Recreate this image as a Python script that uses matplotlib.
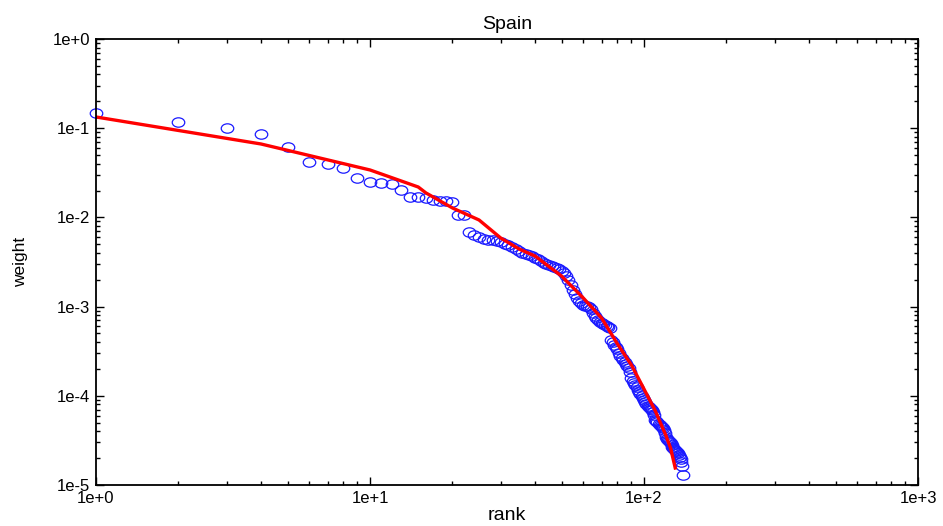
import numpy as np
import matplotlib.pyplot as plt
from matplotlib.path import Path
from matplotlib.transforms import Affine2D

plt.rcParams['font.family'] = ['Liberation Sans', 'DejaVu Sans']

# observed weights, rank 1..139
weights = [
    0.148, 0.1174, 0.1005, 0.0861, 0.0615, 0.0418, 0.0397, 0.0358, 0.0276, 0.0249,
    0.0243, 0.0237, 0.0203, 0.0169, 0.0169, 0.0165, 0.0157, 0.0153, 0.0153, 0.0149,
    0.01064, 0.01064, 0.00686, 0.00635, 0.00603, 0.00573, 0.00558, 0.00558, 0.00544, 0.0053,
    0.00503, 0.0049, 0.00466, 0.00442, 0.0042, 0.00399, 0.00389, 0.00379, 0.00369, 0.0035,
    0.00342, 0.00324, 0.00308, 0.0030, 0.00293, 0.00285, 0.00278, 0.00271, 0.00264, 0.00251,
    0.00238, 0.0022, 0.00199, 0.00175, 0.00153, 0.00138, 0.00125, 0.00116, 0.0011, 0.00104,
    0.00102, 0.00102, 0.00099, 0.00094, 0.00085, 0.000784, 0.000745, 0.000708, 0.000672, 0.000655,
    0.000638, 0.000622, 0.000606, 0.00059, 0.000575, 0.000422, 0.000401, 0.000371, 0.000352, 0.000335,
    0.000302, 0.000279, 0.000265, 0.000252, 0.000239, 0.000227, 0.000216, 0.000205, 0.000185, 0.000158,
    0.000147, 0.000139, 0.000132, 0.000126, 0.000116, 0.00011, 0.000105, 0.0000995, 0.0000945, 0.0000897,
    0.0000852, 0.0000809, 0.0000769, 0.0000749, 0.000073, 0.0000711, 0.0000693, 0.0000658, 0.0000609, 0.0000535,
    0.0000522, 0.0000508, 0.0000483, 0.000047, 0.0000459, 0.0000447, 0.0000436, 0.0000414, 0.0000383, 0.0000345,
    0.0000328, 0.0000319, 0.0000311, 0.0000303, 0.0000296, 0.0000281, 0.0000267, 0.000026, 0.0000253, 0.0000247,
    0.000024, 0.0000234, 0.0000228, 0.0000217, 0.0000206, 0.0000196, 0.0000181, 0.0000163, 0.0000129,
]
ranks = np.arange(1, len(weights) + 1)

# fitted model curve
fit_ranks = [1, 4, 10, 15, 16, 20, 25, 30, 35, 40, 50, 60, 70, 80, 90, 100, 110, 120, 125, 130]
fit_weights = [0.1335, 0.0665, 0.034, 0.0219, 0.0188, 0.01274, 0.00935, 0.00587, 0.00442, 0.00369,
               0.0022, 0.00125, 0.000745, 0.000381, 0.000221, 0.000119, 0.0000675, 0.0000363,
               0.000026, 0.0000155]

# slightly flattened circle marker
ellipse = Path.unit_circle().transformed(Affine2D().scale(1.0, 0.75))

fig = plt.figure(figsize=(9.43, 5.26), dpi=100)
ax = fig.add_axes([0.1018, 0.078, 0.8717, 0.8479])

ax.plot(ranks, weights, linestyle='none', marker=ellipse, markersize=9,
        markerfacecolor='none', markeredgecolor='#1a1aff', markeredgewidth=0.9,
        clip_on=False)
ax.plot(fit_ranks, fit_weights, color='#ff0000', linewidth=2.4)

ax.set_xscale('log')
ax.set_yscale('log')
ax.set_xlim(1, 1000)
ax.set_ylim(1e-5, 1)

ax.set_xticks([1, 10, 100, 1000], ['1e+0', '1e+1', '1e+2', '1e+3'])
ax.set_yticks([1e-5, 1e-4, 1e-3, 1e-2, 1e-1, 1], ['1e-5', '1e-4', '1e-3', '1e-2', '1e-1', '1e+0'])
ax.tick_params(which='both', direction='in', top=True, right=True, labelsize=12, width=1)
ax.tick_params(which='major', length=6, pad=4)
ax.tick_params(which='minor', length=3)
for s in ax.spines.values():
    s.set_linewidth(1.3)

ax.set_title('Spain', fontsize=14, pad=7)
ax.set_xlabel('rank', fontsize=14, labelpad=1)
ax.set_ylabel('weight', fontsize=12.5, labelpad=18)

fig.savefig('out.png', dpi=100)
